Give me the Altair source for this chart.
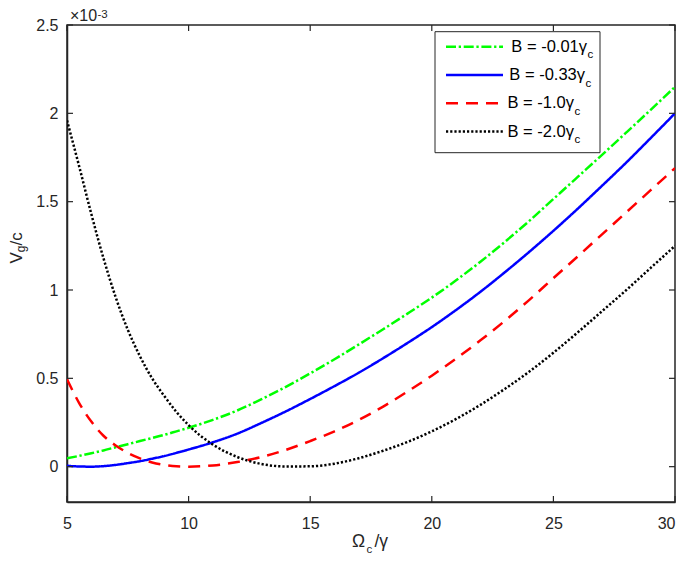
import altair as alt
import pandas as pd

# ---------------- data (V_g/c in units of 1e-3) ----------------
omega = [5, 5.5, 6, 6.5, 7, 7.5, 8, 8.5, 9, 9.5, 10, 11, 12, 13, 14, 15, 16, 17,
         18, 19, 20, 21, 22, 23, 24, 25, 26, 27, 28, 29, 30]
vg_b001 = [0.047, 0.061, 0.076, 0.092, 0.11, 0.127, 0.145, 0.162, 0.18, 0.20, 0.22,
           0.265, 0.318, 0.382, 0.452, 0.528, 0.608, 0.692, 0.778, 0.866, 0.957, 1.055,
           1.16, 1.272, 1.39, 1.515, 1.64, 1.765, 1.892, 2.02, 2.15]
vg_b033 = [0.005, 0.001, 0.0, 0.003, 0.01, 0.02, 0.031, 0.045, 0.06, 0.078, 0.097,
           0.138, 0.187, 0.248, 0.313, 0.383, 0.456, 0.532, 0.614, 0.70, 0.79, 0.887,
           0.99, 1.10, 1.215, 1.335, 1.46, 1.59, 1.722, 1.86, 2.0]
vg_b100 = [0.495, 0.36, 0.255, 0.175, 0.12, 0.078, 0.047, 0.024, 0.01, 0.002, 0.0,
           0.007, 0.026, 0.055, 0.095, 0.145, 0.2, 0.265, 0.34, 0.425, 0.515, 0.612,
           0.715, 0.825, 0.943, 1.067, 1.19, 1.315, 1.44, 1.565, 1.69]
vg_b200 = [1.96, 1.70, 1.43, 1.18, 0.96, 0.775, 0.625, 0.50, 0.40, 0.31, 0.235,
           0.125, 0.055, 0.015, 0.001, 0.002, 0.017, 0.048, 0.09, 0.14, 0.20, 0.27,
           0.35, 0.44, 0.537, 0.645, 0.76, 0.88, 1.0, 1.125, 1.25]
series_text = ["B = -0.01γ", "B = -0.33γ", "B = -1.0γ", "B = -2.0γ"]
x_ticks = [5, 10, 15, 20, 25, 30]
y_ticks = [0, 0.5, 1, 1.5, 2, 2.5]

# ---------------- styles ----------------
W, H = 608, 477
AX = "#262626"
FONT = "Liberation Sans"
colors = ["#00ff00", "#0000ff", "#ff0000", "#000000"]
dashes = [[10, 2.7, 2.3, 2.7], [1, 0], [12, 8], [2.2, 2.0]]
series_vals = [vg_b001, vg_b033, vg_b100, vg_b200]

x_scale = alt.Scale(domain=[5, 30], nice=False, zero=False)
y_scale = alt.Scale(domain=[-0.2, 2.5], nice=False, zero=False)
xax = alt.Axis(values=x_ticks, title=None, grid=False, ticks=False, tickSize=0,
               labelPadding=13, labelFontSize=16, labelFont=FONT, labelColor=AX,
               labelFlush=False, labelOverlap=False, labelBound=False,
               labelAlign={"expr": "datum.value >= 30 ? 'right' : 'center'"},
               domainColor=AX, domainWidth=1.5, format="~g")
yax = alt.Axis(values=y_ticks, title=None, grid=False, ticks=False, tickSize=0,
               labelPadding=9, labelFontSize=16, labelFont=FONT, labelColor=AX,
               labelBaseline="middle", labelOverlap=False, domainColor=AX,
               domainWidth=1.5, format="~g")

one = pd.DataFrame({"_": [0]})
layers = []

# curves
for vals, col, dash in zip(series_vals, colors, dashes):
    df = pd.DataFrame({"x": omega, "v": vals})
    layers.append(
        alt.Chart(df).mark_line(color=col, strokeWidth=2.5, strokeDash=dash,
                                interpolate="monotone", clip=True).encode(
            x=alt.X("x:Q", scale=x_scale, axis=xax),
            y=alt.Y("v:Q", scale=y_scale, axis=yax),
        )
    )

# inward ticks on all four sides
xt = pd.DataFrame({"t": x_ticks})
yt = pd.DataFrame({"t": y_ticks})
TL = 6
layers.append(alt.Chart(xt).mark_rule(color=AX, strokeWidth=1.2).encode(
    x=alt.X("t:Q", scale=x_scale, axis=xax), y=alt.value(H), y2=alt.value(H - TL)))
layers.append(alt.Chart(xt).mark_rule(color=AX, strokeWidth=1.2).encode(
    x=alt.X("t:Q", scale=x_scale, axis=xax), y=alt.value(0), y2=alt.value(TL)))
layers.append(alt.Chart(yt).mark_rule(color=AX, strokeWidth=1.2).encode(
    y=alt.Y("t:Q", scale=y_scale, axis=yax), x=alt.value(0), x2=alt.value(TL)))
layers.append(alt.Chart(yt).mark_rule(color=AX, strokeWidth=1.2).encode(
    y=alt.Y("t:Q", scale=y_scale, axis=yax), x=alt.value(W), x2=alt.value(W - TL)))


def txt(s, x, y, size, align="left", angle=0, color=AX):
    return alt.Chart(one).mark_text(font=FONT, fontSize=size, align=align,
                                    baseline="alphabetic", angle=angle,
                                    color=color).encode(
        x=alt.value(x), y=alt.value(y), text=alt.value(s))


# legend box
layers.append(alt.Chart(one).mark_rect(fill="white", stroke=AX, strokeWidth=1).encode(
    x=alt.value(368), x2=alt.value(533), y=alt.value(6.7), y2=alt.value(127.7)))
row_base = [26.7, 55.0, 83.3, 111.6]
text_end = [520, 518, 507, 507]
for i in range(4):
    yb = row_base[i]
    layers.append(alt.Chart(one).mark_rule(color=colors[i], strokeWidth=2.5,
                                           strokeDash=dashes[i]).encode(
        x=alt.value(379), x2=alt.value(436), y=alt.value(yb - 5)))
    layers.append(txt(series_text[i], text_end[i], yb, 16.5, align="right", color="#000000"))
    layers.append(txt("c", text_end[i] + 0.5, yb + 6.5, 11.5, color="#000000"))

# x10^-3 multiplier
layers.append(txt("×10", 3, -4.3, 16))
layers.append(txt("-3", 30.5, -7, 11.5))

# x-axis title: Omega_c / gamma
layers.append(txt("Ω", 298, 522, 17.5, align="right"))
layers.append(txt("c", 299.5, 527.5, 11.5))
layers.append(txt("/γ", 307.5, 522, 17.5))

# y-axis title: V_g / c (rotated)
layers.append(txt("V", -45.5, 238.5, 17, angle=270))
layers.append(txt("g", -42, 227.2, 12, angle=270))
layers.append(txt("/c", -45.5, 220.5, 17, angle=270))

chart = alt.layer(*layers).properties(
    width=W, height=H,
    autosize=alt.AutoSizeParams(type="none"),
    padding={"left": 59, "top": 17, "right": 2, "bottom": 54},
    background="white",
).configure_view(stroke=AX, strokeWidth=1.5)

chart.save("out.html", embed_options={"renderer": "svg", "actions": False})
